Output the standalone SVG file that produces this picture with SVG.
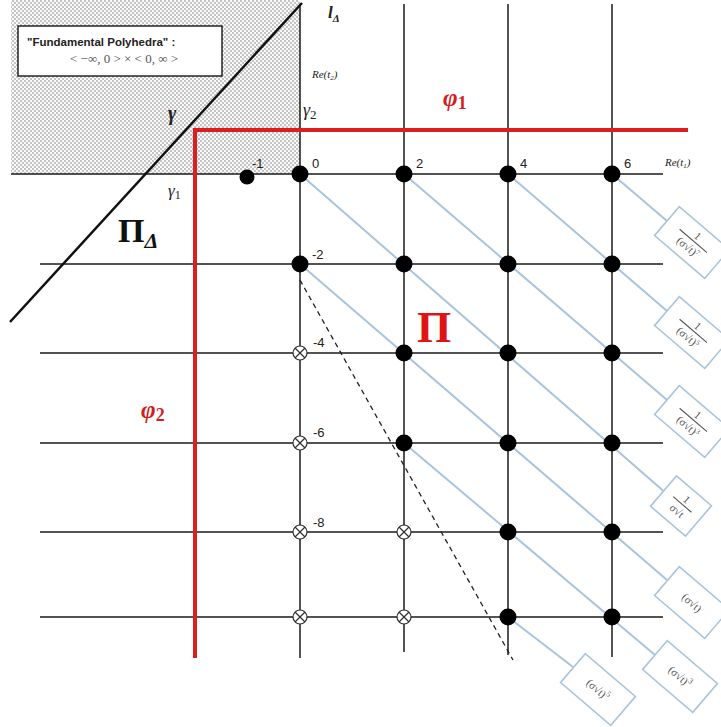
<svg xmlns="http://www.w3.org/2000/svg" width="721" height="727" viewBox="0 0 721 727">
<style>
.grid{stroke:#1a1a1a;stroke-width:1.5;fill:none}
.red{stroke:#dc1e1e;stroke-width:4;fill:none}
.blue{stroke:#a9c4dc;stroke-width:2;fill:none}
.bx{fill:#fff;stroke:#a9c4dc;stroke-width:1.6}
.dot{fill:#000}
.ox circle{fill:#fff;stroke:#333;stroke-width:1.2}
.ox line{stroke:#333;stroke-width:1.2}
.num{font-family:"Liberation Sans",Arial,sans-serif;font-size:13px;fill:#222}
.mth{font-family:"Liberation Serif","Times New Roman",serif;font-style:italic;fill:#222}
.bt{font-family:"Liberation Serif","Times New Roman",serif;font-size:11px;fill:#555;text-anchor:middle}
.fb{stroke:#555;stroke-width:1.1}
.phi{font-family:"Liberation Serif","Times New Roman",serif;font-weight:bold;font-style:italic;font-size:25px;fill:#d21e1e}
</style>
<defs>
<pattern id="dots" width="4" height="4" patternUnits="userSpaceOnUse">
<rect width="4" height="4" fill="#fafafa"/>
<circle cx="1" cy="1" r="0.7" fill="#666"/>
<circle cx="3" cy="3" r="0.7" fill="#666"/>
</pattern>
</defs>
<rect width="721" height="727" fill="#fff"/>
<rect id="hatch" x="11" y="0" width="289" height="174" fill="url(#dots)"/>
<g id="fundamental">
<rect x="18" y="26" width="204" height="50" fill="#fff" stroke="#222" stroke-width="1.5"/>
<text x="27" y="46" font-family="Liberation Sans,Arial,sans-serif" font-weight="bold" font-size="11.5" fill="#222">"Fundamental Polyhedra" :</text>
<text x="124" y="63" font-family="Liberation Serif,Times New Roman,serif" font-size="13" fill="#555" text-anchor="middle">&lt; −∞, 0 &gt; × &lt; 0, ∞ &gt;</text>
</g>
<g id="connectors">
<g id="grid">
<line class="grid" x1="11" y1="174" x2="663" y2="174"/>
<line class="grid" x1="40" y1="264" x2="663" y2="264"/>
<line class="grid" x1="40" y1="353" x2="663" y2="353"/>
<line class="grid" x1="40" y1="443" x2="663" y2="443"/>
<line class="grid" x1="40" y1="532" x2="663" y2="532"/>
<line class="grid" x1="40" y1="617" x2="663" y2="617"/>
<line class="grid" x1="300" y1="4" x2="300" y2="658"/>
<line class="grid" x1="404" y1="4" x2="404" y2="652"/>
<line class="grid" x1="508" y1="4" x2="508" y2="655"/>
<line class="grid" x1="612" y1="4" x2="612" y2="657"/>
</g>
<line x1="302" y1="3" x2="10" y2="322" stroke="#111" stroke-width="2.5"/>
<polyline class="red" points="688,130 195,130 195,658"/>
<line x1="300" y1="280" x2="513" y2="660" stroke="#222" stroke-width="1.3" stroke-dasharray="5,4"/>
<g id="diagonals">
<line class="blue" x1="612" y1="174" x2="667" y2="221"/>
<line class="blue" x1="508" y1="174" x2="667" y2="311"/>
<line class="blue" x1="404" y1="174" x2="667" y2="400"/>
<line class="blue" x1="300" y1="174" x2="663.5" y2="491"/>
<line class="blue" x1="300" y1="264" x2="667" y2="580"/>
<line class="blue" x1="404" y1="443" x2="655" y2="655"/>
<line class="blue" x1="508" y1="617" x2="573" y2="667"/>
</g>
</g>
<g id="points">
<circle class="dot" cx="247" cy="177" r="7.5"/>
<circle class="dot" cx="300" cy="174" r="8.5"/>
<circle class="dot" cx="404" cy="174" r="8.5"/>
<circle class="dot" cx="508" cy="174" r="8.5"/>
<circle class="dot" cx="612" cy="174" r="8.5"/>
<circle class="dot" cx="300" cy="264" r="8.5"/>
<circle class="dot" cx="404" cy="264" r="8.5"/>
<circle class="dot" cx="508" cy="264" r="8.5"/>
<circle class="dot" cx="612" cy="264" r="8.5"/>
<circle class="dot" cx="404" cy="353" r="8.5"/>
<circle class="dot" cx="508" cy="353" r="8.5"/>
<circle class="dot" cx="612" cy="353" r="8.5"/>
<circle class="dot" cx="404" cy="443" r="8.5"/>
<circle class="dot" cx="508" cy="443" r="8.5"/>
<circle class="dot" cx="612" cy="443" r="8.5"/>
<circle class="dot" cx="508" cy="532" r="8.5"/>
<circle class="dot" cx="612" cy="532" r="8.5"/>
<circle class="dot" cx="508" cy="617" r="8.5"/>
<circle class="dot" cx="612" cy="617" r="8.5"/>
</g>
<g id="excluded">
<g class="ox" transform="translate(300,353)"><circle r="7"/><line x1="-5" y1="-5" x2="5" y2="5"/><line x1="-5" y1="5" x2="5" y2="-5"/></g>
<g class="ox" transform="translate(300,443)"><circle r="7"/><line x1="-5" y1="-5" x2="5" y2="5"/><line x1="-5" y1="5" x2="5" y2="-5"/></g>
<g class="ox" transform="translate(300,532)"><circle r="7"/><line x1="-5" y1="-5" x2="5" y2="5"/><line x1="-5" y1="5" x2="5" y2="-5"/></g>
<g class="ox" transform="translate(300,617)"><circle r="7"/><line x1="-5" y1="-5" x2="5" y2="5"/><line x1="-5" y1="5" x2="5" y2="-5"/></g>
<g class="ox" transform="translate(404,532)"><circle r="7"/><line x1="-5" y1="-5" x2="5" y2="5"/><line x1="-5" y1="5" x2="5" y2="-5"/></g>
<g class="ox" transform="translate(404,617)"><circle r="7"/><line x1="-5" y1="-5" x2="5" y2="5"/><line x1="-5" y1="5" x2="5" y2="-5"/></g>
</g>
<g id="tick-labels">
<text class="num" x="252" y="168" font-size="11">-1</text>
<text class="num" x="312" y="168">0</text>
<text class="num" x="416" y="168">2</text>
<text class="num" x="520" y="168">4</text>
<text class="num" x="624" y="168">6</text>
<text class="num" x="312" y="259">-2</text>
<text class="num" x="313" y="347">-4</text>
<text class="num" x="313" y="437">-6</text>
<text class="num" x="313" y="527">-8</text>
</g>
<g id="axis-labels">
<text class="mth" x="665" y="166" font-size="11">Re(t<tspan font-size="7" dy="2">1</tspan><tspan dy="-2">)</tspan></text>
<text class="mth" x="312" y="78" font-size="11">Re(t<tspan font-size="7" dy="2">2</tspan><tspan dy="-2">)</tspan></text>
<text class="mth" x="328" y="18" font-size="17" font-weight="bold">l<tspan font-size="11" dy="4">Δ</tspan></text>
<text class="mth" x="168" y="120" font-size="20" font-weight="bold" fill="#111">γ</text>
<text class="mth" x="303" y="116" font-size="18">γ<tspan font-style="normal" font-size="13" dy="3">2</tspan></text>
<text class="mth" x="168" y="196" font-size="17">γ<tspan font-style="normal" font-size="12" dy="3">1</tspan></text>
</g>
<g id="phi1"><text class="phi" x="443" y="106">φ<tspan font-style="normal" font-size="18" dy="3">1</tspan></text></g>
<g id="phi2"><text class="phi" x="141" y="418">φ<tspan font-style="normal" font-size="18" dy="3">2</tspan></text></g>
<g id="Pi"><text x="417" y="342" font-family="Liberation Serif,Times New Roman,serif" font-weight="bold" font-size="44" fill="#e01414">Π</text></g>
<g id="PiDelta"><text x="118" y="242" font-family="Liberation Serif,Times New Roman,serif" font-weight="bold" font-size="34" fill="#111">Π<tspan font-style="italic" font-size="22" dy="6">Δ</tspan></text></g>
<g id="boxA" transform="translate(692,242.5) rotate(40.55)">
<rect class="bx" x="-33" y="-19" width="66" height="38"/>
<text class="bt" x="0" y="-5">1</text><line class="fb" x1="-18" y1="-2" x2="18" y2="-2"/>
<text class="bt" x="0" y="10">(σ√t)<tspan font-size="7" dy="-4">7</tspan></text>
</g>
<g id="boxB" transform="translate(692,332.5) rotate(40.55)">
<rect class="bx" x="-33" y="-19" width="66" height="38"/>
<text class="bt" x="0" y="-5">1</text><line class="fb" x1="-18" y1="-2" x2="18" y2="-2"/>
<text class="bt" x="0" y="10">(σ√t)<tspan font-size="7" dy="-4">5</tspan></text>
</g>
<g id="boxC" transform="translate(692,421.5) rotate(40.55)">
<rect class="bx" x="-33" y="-19" width="66" height="38"/>
<text class="bt" x="0" y="-5">1</text><line class="fb" x1="-18" y1="-2" x2="18" y2="-2"/>
<text class="bt" x="0" y="10">(σ√t)<tspan font-size="7" dy="-4">3</tspan></text>
</g>
<g id="boxD" transform="translate(681,506) rotate(40.55)">
<rect class="bx" x="-23" y="-20" width="46" height="40"/>
<text class="bt" x="0" y="-5">1</text><line class="fb" x1="-12" y1="-2" x2="12" y2="-2"/>
<text class="bt" x="0" y="10">σ√t</text>
</g>
<g id="boxE" transform="translate(692,602.5) rotate(40.55)">
<rect class="bx" x="-33" y="-19" width="66" height="38"/>
<text class="bt" x="0" y="4" font-size="12">(σ√t)</text>
</g>
<g id="boxF" transform="translate(680,676.5) rotate(40.55)">
<rect class="bx" x="-33" y="-19" width="66" height="38"/>
<text class="bt" x="0" y="4" font-size="12">(σ√t)<tspan font-size="8" dy="-5">3</tspan></text>
</g>
<g id="boxG" transform="translate(598,689.5) rotate(40.55)">
<rect class="bx" x="-33" y="-19" width="66" height="38"/>
<text class="bt" x="0" y="4" font-size="12">(σ√t)<tspan font-size="8" dy="-5">5</tspan></text>
</g>
</svg>
